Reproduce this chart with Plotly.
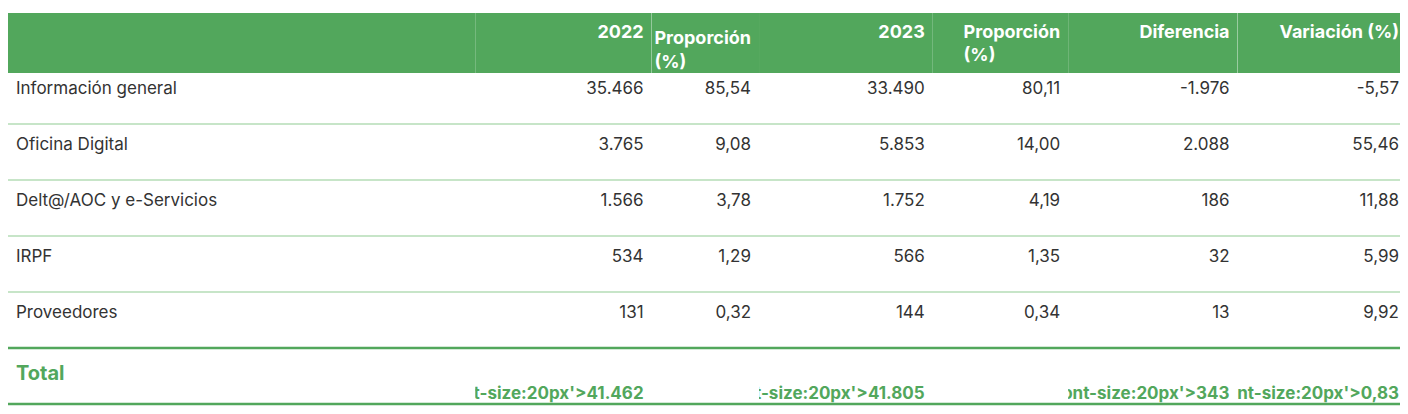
import plotly.graph_objects as go

headers = ["", "2022", "Proporción (%)", "2023", "Proporción (%)", "Diferencia", "Variación (%)"]
categorias = ["Información general", "Oficina Digital", "Delt@/AOC y e-Servicios", "IRPF", "Proveedores"]
v2022 = ["35.466", "3.765", "1.566", "534", "131"]
p2022 = ["85,54", "9,08", "3,78", "1,29", "0,32"]
v2023 = ["33.490", "5.853", "1.752", "566", "144"]
p2023 = ["80,11", "14,00", "4,19", "1,35", "0,34"]
diferencia = ["-1.976", "2.088", "186", "32", "13"]
variacion = ["-5,57", "55,46", "11,88", "5,99", "9,92"]
total = ["Total", "41.462", "", "41.805", "", "343", "0,83"]

GREEN = "#52a75c"
LIGHT = "#8fcc92"
TEXT = "#333333"
H, T = 414, 5
HEADER_H, ROW_H = 55, 56

cols = [categorias, v2022, p2022, v2023, p2023, diferencia, variacion]
values = [c + [f"<b><span style='font-size:20px'>{t}</span></b>" if t else ""] for c, t in zip(cols, total)]
n = len(categorias) + 1
font_colors = [[TEXT] * (n - 1) + [GREEN] for _ in cols]

fig = go.Figure(go.Table(
    columnwidth=[535, 202, 123, 199, 155, 194],
    header=dict(values=[f"<b>{h}</b>" for h in headers], fill_color=GREEN,
                font=dict(color="white", size=18, family="Inter"),
                align=["left"] + ["right"] * 6, height=HEADER_H,
                line=dict(color=GREEN, width=0)),
    cells=dict(values=values, fill_color="white",
               font=dict(color=font_colors, size=17, family="Inter"),
               align=["left"] + ["right"] * 6, height=ROW_H,
               line=dict(color="white", width=0)),
    domain=dict(x=[0, 0.994], y=[0, 1]),
))


def py(px):
    return (H - px) / (H - T)


shapes = []
for i in range(n):
    ypx = T + HEADER_H + ROW_H * (i + 1)
    thick = i >= n - 2
    shapes.append(dict(type="line", xref="paper", yref="paper", x0=0, x1=1,
                       y0=py(ypx), y1=py(ypx),
                       line=dict(color=GREEN if thick else LIGHT, width=2.5 if thick else 1.2)))

fig.update_layout(width=1408, height=H, margin=dict(l=0, r=0, t=T, b=0),
                  paper_bgcolor="white", shapes=shapes)
fig.write_html("out.html")
